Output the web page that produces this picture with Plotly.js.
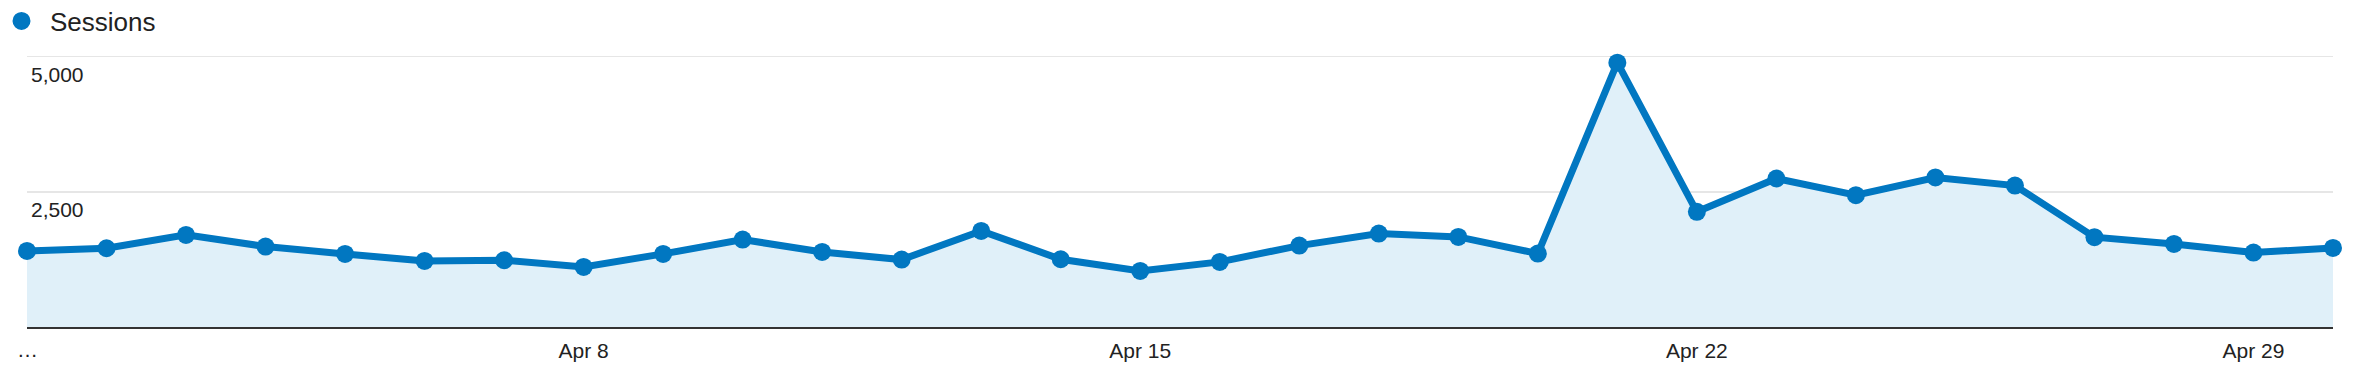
<!DOCTYPE html>
<html>
<head>
<meta charset="utf-8">
<script src="https://cdn.plot.ly/plotly-3.0.1.min.js"></script>
<style>
  html, body { margin: 0; padding: 0; background: #ffffff; }
  #chart { width: 2354px; height: 366px; }
</style>
</head>
<body>
<div id="chart"></div>
<script>
// ---- Data ----
const seriesName = 'Sessions';
const dates = [
  '2024-04-01','2024-04-02','2024-04-03','2024-04-04','2024-04-05',
  '2024-04-06','2024-04-07','2024-04-08','2024-04-09','2024-04-10',
  '2024-04-11','2024-04-12','2024-04-13','2024-04-14','2024-04-15',
  '2024-04-16','2024-04-17','2024-04-18','2024-04-19','2024-04-20',
  '2024-04-21','2024-04-22','2024-04-23','2024-04-24','2024-04-25',
  '2024-04-26','2024-04-27','2024-04-28','2024-04-29','2024-04-30'
];
const sessions = [
  1407, 1457, 1704, 1488, 1352,
  1222, 1235, 1111, 1352, 1617,
  1389, 1247, 1778, 1253, 1037,
  1204, 1506, 1728, 1667, 1358,
  4889, 2130, 2747, 2438, 2766,
  2617, 1661, 1537, 1377, 1463
];
// first (truncated) date label, drawn at the first date
const firstDateLabel = '\u2026';
const xTickVals = ['2024-04-08','2024-04-15','2024-04-22','2024-04-29'];
const xTickText = ['Apr 8','Apr 15','Apr 22','Apr 29'];
const yTickVals = [2500, 5000];
const yTickText = ['2,500','5,000'];

// ---- Styling ----
const lineColor = '#0177c1';
const fillColor = '#e0f0f9';
const textColor = '#222222';
const fontFamily = 'Arial, "Liberation Sans", Helvetica, sans-serif';

const traces = [
  {
    x: dates,
    y: sessions,
    type: 'scatter',
    mode: 'lines+markers',
    fill: 'tozeroy',
    fillcolor: fillColor,
    line: { color: lineColor, width: 7 },
    marker: { color: lineColor, size: 18 },
    cliponaxis: false,
    showlegend: false,
    name: seriesName
  },
  {
    x: [null],
    y: [null],
    type: 'scatter',
    mode: 'markers',
    marker: { color: lineColor, size: 20, line: { color: lineColor, width: 2 } },
    name: seriesName,
    showlegend: true
  }
];

const layout = {
  width: 2354,
  height: 366,
  margin: { l: 27, r: 21, t: 54, b: 39, pad: 0, autoexpand: false },
  paper_bgcolor: '#ffffff',
  plot_bgcolor: '#ffffff',
  font: { family: fontFamily, color: textColor, size: 21 },
  showlegend: true,
  legend: {
    x: -34 / 2306, y: 329.5 / 273, xanchor: 'left', yanchor: 'top',
    itemwidth: 47,
    font: { size: 26, color: textColor, family: fontFamily },
    bgcolor: 'rgba(0,0,0,0)',
    borderwidth: 0
  },
  annotations: [
    {
      xref: 'x', yref: 'paper',
      x: dates[0], y: -22 / 273,
      xanchor: 'center', yanchor: 'middle',
      text: firstDateLabel,
      showarrow: false,
      font: { size: 21, color: textColor, family: fontFamily }
    }
  ],
  xaxis: {
    type: 'date',
    range: ['2024-04-01', '2024-04-30'],
    tickmode: 'array',
    tickvals: xTickVals,
    ticktext: xTickText,
    showgrid: false,
    zeroline: false,
    showline: true,
    linecolor: '#333333',
    linewidth: 2,
    ticks: '',
    ticklabelstandoff: 4,
    tickfont: { size: 21, color: textColor },
    fixedrange: true
  },
  yaxis: {
    range: [0, 5050],
    tickmode: 'array',
    tickvals: yTickVals,
    ticktext: yTickText,
    showgrid: true,
    gridcolor: '#e6e6e6',
    gridwidth: 1.5,
    zeroline: false,
    showline: false,
    ticks: '',
    ticklabelposition: 'inside',
    ticklabelshift: 18,
    ticklabelstandoff: 1,
    tickfont: { size: 21, color: textColor },
    fixedrange: true
  }
};

Plotly.newPlot('chart', traces, layout, { displayModeBar: false, staticPlot: true });
</script>
</body>
</html>
